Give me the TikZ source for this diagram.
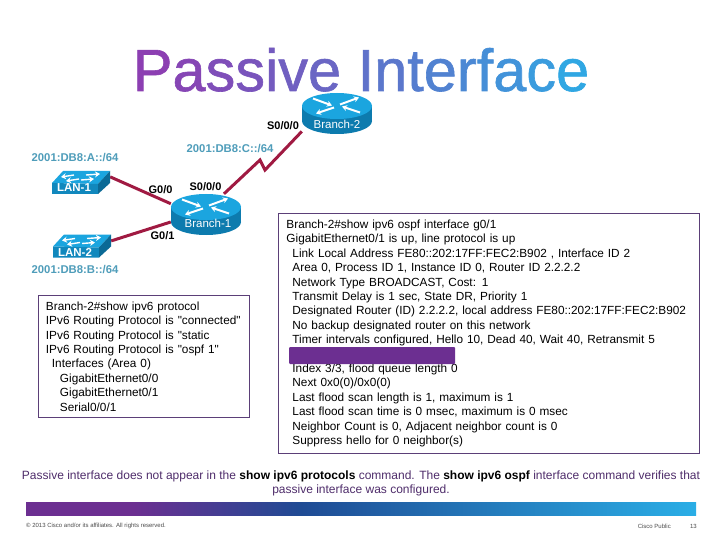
\documentclass[tikz,border=0pt]{standalone}
\usepackage{fontspec}
\setmainfont{Liberation Sans}
\usetikzlibrary{calc, positioning, arrows.meta}
\definecolor{ttlpurple}{HTML}{8C3FB2}
\definecolor{ttlblue}{HTML}{2AAEE6}
\definecolor{wirered}{HTML}{A01A42}
\definecolor{netteal}{HTML}{4F9DBA}
\definecolor{boxline}{HTML}{5B3F78}
\definecolor{notepurple}{HTML}{4F2D6B}
\definecolor{barpurple}{HTML}{6C2F91}
\definecolor{barblue}{HTML}{1F4B94}
\definecolor{devtop}{HTML}{1BA5DF}
\definecolor{devside}{HTML}{0D7BAE}
\definecolor{devdark}{HTML}{0B6A96}
\pgfdeclarehorizontalshading{footbar}{100bp}{color(0bp)=(barpurple); color(33bp)=(barpurple); color(45.5bp)=(barblue); color(75bp)=(ttlblue); color(100bp)=(ttlblue)}
\newcommand{\tl}[2]{\textcolor{ttlblue!#1!ttlpurple}{#2}}
\begin{document}
\begin{tikzpicture}[x=1pt, y=-1pt,
  routerbox/.style={minimum width=70pt, minimum height=41pt, inner sep=0pt},
  switchbox/.style={minimum width=58pt, minimum height=24pt, inner sep=0pt},
  wire/.style={draw=wirered, line width=3pt},
  portlbl/.style={font=\bfseries\fontsize{11}{13}\selectfont, inner sep=0pt},
  netlbl/.style={font=\bfseries\fontsize{11.3}{13}\selectfont, text=netteal, inner sep=0pt},
  devlbl/.style={font=\fontsize{11.5}{13}\selectfont, text=white, inner sep=0pt},
  cmdbox/.style={draw=boxline, line width=.9pt, anchor=north west, align=left, inner ysep=0pt,
    font=\fontsize{11.8}{14.4}\selectfont},
  whitearrow/.style={draw=white, line width=2pt, -{Stealth[length=5pt,width=6pt]}},
  router/.pic={
    \fill[devside] (0,7.5) ellipse [x radius=35pt, y radius=13pt];
    \fill[devside] (-35,-7.5) rectangle (35,7.5);
    \fill[devtop] (0,-7.5) ellipse [x radius=35pt, y radius=13pt];
    \draw[whitearrow] (-24,-15) -- (-5,-8);
    \draw[whitearrow] (23,-1) -- (5,-7);
    \draw[whitearrow] (-3,-6) -- (-21,0);
    \draw[whitearrow] (3,-9) -- (22,-16);
  },
  switch/.pic={
    \fill[devtop] (-29,1) -- (-18,-11) -- (29,-11) -- (17,2) -- cycle;
    \fill[devside!70!devtop] (-29,1) -- (17,2) -- (17,12) -- (-29,12) -- cycle;
    \fill[devdark] (17,2) -- (29,-11) -- (29,1) -- (17,12) -- cycle;
    \draw[whitearrow, line width=1.4pt] (-7,-7) -- (-20,-5);
    \draw[whitearrow, line width=1.4pt] (-2,-3) -- (-15,-1);
    \draw[whitearrow, line width=1.4pt] (5,-7) -- (19,-8);
    \draw[whitearrow, line width=1.4pt] (0,-2) -- (13,-3);
  }]
\useasboundingbox (0,0) rectangle (720,540);
\fill[white] (0,0) rectangle (720,540);

% title
\node[font=\fontsize{59.5}{64}\selectfont\addfontfeature{FakeBold=1}, anchor=base] (title) at (361,91) {\tl{0}{P}\tl{6}{a}\tl{13}{s}\tl{19}{s}\tl{25}{i}\tl{29}{v}\tl{35}{e} \tl{46}{I}\tl{50}{n}\tl{56}{t}\tl{60}{e}\tl{66}{r}\tl{71}{f}\tl{76}{a}\tl{84}{c}\tl{94}{e}};

% devices
\node[routerbox] (Branch1) at (206,214.5) {};
\node[routerbox] (Branch2) at (337,113.5) {};
\node[switchbox] (LAN1) at (81,182) {};
\node[switchbox] (LAN2) at (82,245) {};
\coordinate (bendA) at (260,160);
\coordinate (bendB) at (265,170);

% links
\draw[wire] (LAN1.10) -- (Branch1.163);
\draw[wire] (LAN2.8) -- (Branch1.192);
\draw[wire] (Branch1.49) -- (bendA) -- (bendB) -- (Branch2.207);

\pic at (Branch1) {router};
\pic at (Branch2) {router};
\pic at (LAN1) {switch};
\pic at ($(LAN2)+(0,0.5)$) {switch};

\node[devlbl] (nameB1) at (208,223) {Branch-1};
\node[devlbl] (nameB2) at (337,124) {Branch-2};
\node[devlbl, font=\bfseries\fontsize{11.5}{13}\selectfont] (nameL1) at (74,188) {LAN-1};
\node[devlbl, font=\bfseries\fontsize{11.5}{13}\selectfont] (nameL2) at (75,252) {LAN-2};

\node[portlbl] (p1) at (283,126) {S0/0/0};
\node[portlbl] (p2) at (205.5,187) {S0/0/0};
\node[portlbl] (p3) at (160.5,190) {G0/0};
\node[portlbl] (p4) at (162.5,236) {G0/1};
\node[netlbl] (netC) at (230,149) {2001:DB8:C::/64};
\node[netlbl] (netA) at (75,158) {2001:DB8:A::/64};
\node[netlbl] (netB) at (75,270) {2001:DB8:B::/64};

% command output
\node[cmdbox, inner xsep=8pt, text width=195pt, minimum height=122pt] (protoBox) at (37.5,295) {Branch-2\#show ipv6 protocol\\
IPv6 Routing Protocol is \textquotedbl connected\textquotedbl\\
IPv6 Routing Protocol is \textquotedbl static\\
IPv6 Routing Protocol is \textquotedbl ospf 1\textquotedbl\\
\hspace*{6pt}Interfaces (Area 0)\\
\hspace*{14pt}GigabitEthernet0/0\\
\hspace*{14pt}GigabitEthernet0/1\\
\hspace*{14pt}Serial0/0/1};

\node[cmdbox, inner xsep=8pt, text width=405pt, minimum height=240pt] (ospfBox) at (278,213) {Branch-2\#show ipv6 ospf interface g0/1\\
GigabitEthernet0/1 is up, line protocol is up\\
\hspace*{6pt}Link Local Address FE80::202:17FF:FEC2:B902 , Interface ID 2\\
\hspace*{6pt}Area 0, Process ID 1, Instance ID 0, Router ID 2.2.2.2\\
\hspace*{6pt}Network Type BROADCAST, Cost: 1\\
\hspace*{6pt}Transmit Delay is 1 sec, State DR, Priority 1\\
\hspace*{6pt}Designated Router (ID) 2.2.2.2, local address FE80::202:17FF:FEC2:B902\\
\hspace*{6pt}No backup designated router on this network\\
\hspace*{6pt}Timer intervals configured, Hello 10, Dead 40, Wait 40, Retransmit 5\\
\mbox{}\\
\hspace*{6pt}Index 3/3, flood queue length 0\\
\hspace*{6pt}Next 0x0(0)/0x0(0)\\
\hspace*{6pt}Last flood scan length is 1, maximum is 1\\
\hspace*{6pt}Last flood scan time is 0 msec, maximum is 0 msec\\
\hspace*{6pt}Neighbor Count is 0, Adjacent neighbor count is 0\\
\hspace*{6pt}Suppress hello for 0 neighbor(s)};
\fill[barpurple, rounded corners=1pt] (289,347) rectangle (455,364);

% note and footer
\node[font=\fontsize{12}{14}\selectfont, text=notepurple, align=center, inner sep=0pt] (note) at (361,483) {Passive interface does not appear in the \textcolor{black}{\bfseries show ipv6 protocols} command. The \textcolor{black}{\bfseries show ipv6 ospf} interface command verifies that\\passive interface was configured.};
\shade[shading=footbar] (26,502) rectangle (696,515);
\node[font=\fontsize{6}{7}\selectfont, text=black!70, anchor=west, inner sep=0pt] (copy) at (26,526) {© 2013 Cisco and/or its affiliates. All rights reserved.};
\node[font=\fontsize{6}{7}\selectfont, text=black!70, anchor=east, inner sep=0pt] (pub) at (671,526) {Cisco Public};
\node[font=\fontsize{6}{7}\selectfont, text=black!70, anchor=east, inner sep=0pt] (pg) at (697,526) {13};
\end{tikzpicture}
\end{document}
